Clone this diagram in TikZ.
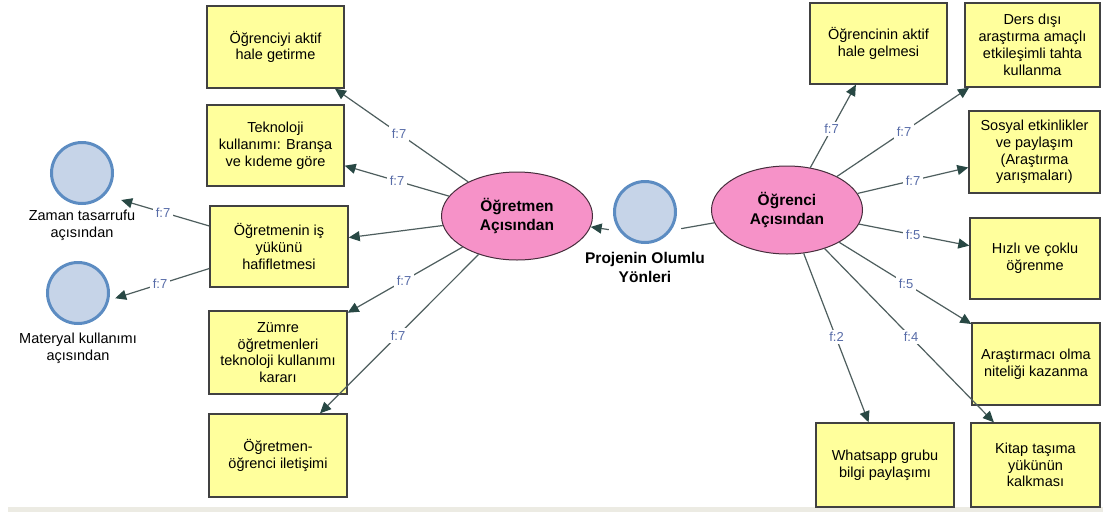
\documentclass[tikz,border=0pt]{standalone}
\usepackage{fontspec}
\setmainfont{Liberation Sans}
\usetikzlibrary{arrows.meta,shapes.geometric}

\definecolor{boxfill}{RGB}{255,255,156}
\definecolor{boxline}{RGB}{65,65,65}
\definecolor{pinkfill}{RGB}{246,146,200}
\definecolor{pinkline}{RGB}{70,45,60}
\definecolor{circfill}{RGB}{198,212,232}
\definecolor{circline}{RGB}{92,140,194}
\definecolor{linkc}{RGB}{78,94,94}
\definecolor{headc}{RGB}{40,72,68}
\definecolor{freqc}{RGB}{88,108,168}
\definecolor{stripc}{RGB}{236,235,227}

\tikzset{
  topic/.style={draw=boxline, line width=1.4pt, fill=boxfill, align=center,
    inner sep=2pt, font=\fontsize{14.5}{16.8}\selectfont},
  view/.style={ellipse, draw=pinkline, line width=1pt, fill=pinkfill,
    minimum width=151pt, minimum height=88pt, inner sep=0pt, align=center,
    font=\bfseries\fontsize{15.5}{19}\selectfont},
  hub/.style={circle, draw=circline, line width=3pt, fill=circfill,
    minimum size=61pt, inner sep=0pt},
  hubtext/.style={align=center, inner sep=0pt, font=\fontsize{14.5}{17}\selectfont},
  hubzone/.style={rectangle, inner sep=0pt},
  link/.style={draw=linkc, line width=1.2pt,
    -{Triangle[length=11pt,width=10pt,color=headc]}},
  plain/.style={draw=linkc, line width=1.2pt},
  freq/.style={fill=white, text=freqc, inner sep=2.5pt,
    font=\fontsize{13}{15}\selectfont},
}

\begin{document}
\begin{tikzpicture}[x=1pt,y=-1pt]
\useasboundingbox (0,0) rectangle (1103,512);
\fill[white] (0,0) rectangle (1103,512);
\fill[stripc] (8,507) rectangle (1103,512);

% central hub and its two perspectives
\node[hub] (projc) at (645,212) {};
\node[hubtext, font=\bfseries\fontsize{15.5}{19}\selectfont] (projt) at (645,267.5)
  {Projenin Olumlu\\Yönleri};
\node[hubzone, minimum width=72pt, minimum height=110pt] (proj) at (645,235) {};

\node[view] (TE) at (517,216) {Öğretmen\\Açısından};
\node[view] (SE) at (787,210) {Öğrenci\\Açısından};

% teacher side
\node[topic, minimum width=137pt, minimum height=82pt] (L1) at (275.5,47)
  {Öğrenciyi aktif\\hale getirme};
\node[topic, minimum width=137pt, minimum height=81pt] (L2) at (275.5,145.5)
  {Teknoloji\\kullanımı: Branşa\\ve kıdeme göre};
\node[topic, minimum width=138pt, minimum height=81pt] (L3) at (279,246.5)
  {Öğretmenin iş\\yükünü\\hafifletmesi};
\node[topic, minimum width=138pt, minimum height=83pt] (L4) at (278,352.5)
  {Zümre\\öğretmenleri\\teknoloji kullanımı\\kararı};
\node[topic, minimum width=138pt, minimum height=83pt] (L5) at (278,455.5)
  {Öğretmen-\\öğrenci iletişimi};

% sub-hubs reached from the workload box
\node[hub] (zamanc) at (82,173) {};
\node[hubtext] (zamant) at (82,225.5) {Zaman tasarrufu\\açısından};
\node[hubzone, minimum width=78pt, minimum height=95pt] (zaman) at (82,188.5) {};

\node[hub] (materyalc) at (78,293) {};
\node[hubtext] (materyalt) at (78,348.5) {Materyal kullanımı\\açısından};
\node[hubzone, minimum width=74pt, minimum height=100pt] (materyal) at (78,310) {};

% student side
\node[topic, minimum width=137pt, minimum height=81pt] (R1) at (878.5,43.5)
  {Öğrencinin aktif\\hale gelmesi};
\node[topic, minimum width=135pt, minimum height=84pt] (R2) at (1032.5,45)
  {Ders dışı\\araştırma amaçlı\\etkileşimli tahta\\kullanma};
\node[topic, minimum width=131pt, minimum height=82pt] (R3) at (1034.5,152)
  {Sosyal etkinlikler\\ve paylaşım\\(Araştırma\\yarışmaları)};
\node[topic, minimum width=130pt, minimum height=81pt] (R4) at (1035,258.5)
  {Hızlı ve çoklu\\öğrenme};
\node[topic, minimum width=128pt, minimum height=82pt] (R5) at (1036,364)
  {Araştırmacı olma\\niteliği kazanma};
\node[topic, minimum width=138pt, minimum height=84pt] (R6) at (885,465)
  {Whatsapp grubu\\bilgi paylaşımı};
\node[topic, minimum width=129pt, minimum height=84pt] (R7) at (1035.5,465)
  {Kitap taşıma\\yükünün\\kalkması};

% connectors
\draw[link] (proj) -- (TE);
\draw[plain] (proj) -- (SE);

\draw[link] (TE) -- (L1);
\draw[link] (TE) -- (L2);
\draw[link] (TE) -- (L3);
\draw[link] (TE) -- (L4);
\draw[link] (TE) -- (L5);
\draw[link] (L3) -- (zaman);
\draw[link] (L3) -- (materyal);

\draw[link] (SE) -- (R1);
\draw[link] (SE) -- (R2);
\draw[link] (SE) -- (R3);
\draw[link] (SE) -- (R4);
\draw[link] (SE) -- (R5);
\draw[link] (SE) -- (R6);
\draw[link] (SE) -- (R7);

% frequency labels on the connectors
\node[freq] (fL1) at (399,133.4) {f:7};
\node[freq] (fL2) at (397,180.5) {f:7};
\node[freq] (fL4) at (404,280.5) {f:7};
\node[freq] (fL5) at (398,335.3) {f:7};
\node[freq] (fZ)  at (163,212.3) {f:7};
\node[freq] (fM)  at (160,284.1) {f:7};
\node[freq] (fR1) at (831.5,129) {f:7};
\node[freq] (fR2) at (904,131.5) {f:7};
\node[freq] (fR3) at (913,181) {f:7};
\node[freq] (fR4) at (913,235) {f:5};
\node[freq] (fR5) at (906,283.5) {f:5};
\node[freq] (fR6) at (836.5,337) {f:2};
\node[freq] (fR7) at (911,337) {f:4};
\end{tikzpicture}
\end{document}
